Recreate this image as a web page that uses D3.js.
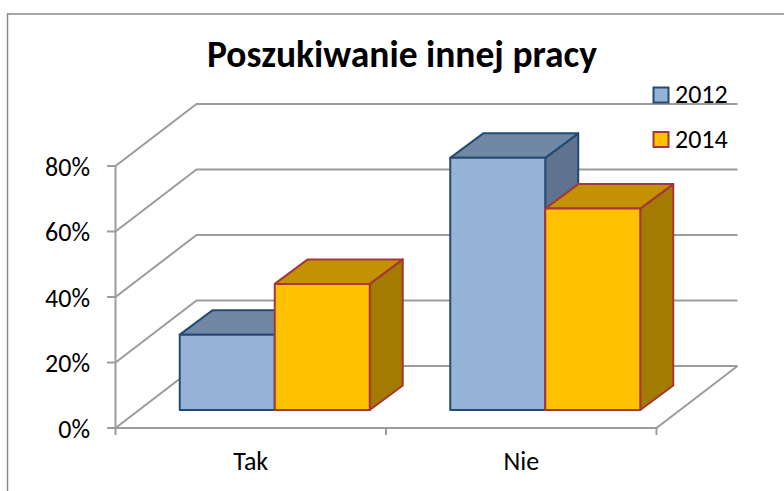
<!DOCTYPE html>
<html><head><meta charset="utf-8">
<script src="https://cdn.jsdelivr.net/npm/d3@7/dist/d3.min.js"></script>
<style>html,body{margin:0;padding:0;background:#fff}svg{display:block}text{font-family:Carlito,"Open Sans","Noto Sans",sans-serif;fill:#000}</style>
</head><body><svg id="c" width="784" height="491"></svg>
<script>
const categories = ["Tak", "Nie"];
const seriesNames = ["2012", "2014"];
const values2012 = [23, 77];
const values2014 = [38.5, 61.5];
const yTicks = [0, 20, 40, 60, 80];
const titleText = "Poszukiwanie innej pracy";

const svg = d3.select("#c");
const W = 784, H = 491;
const grid = "#9c9c9c";
const y = d3.scaleLinear().domain([0, 80]).range([428, 166]);
const x0 = d3.scaleBand().domain(categories).range([115.5, 656.5]);
const wall = {dx: 81, dy: -62};
const floorOff = {dx: 24, dy: -18};
const depth = {dx: 33, dy: -24.5};
const barW = 95;
const x1 = d3.scaleBand().domain(seriesNames).range([-barW, barW]);
const line = d3.line();

const styles = {
  "2012": {front: "#95b3d7", top: "#7188a5", side: "#5f7390", stroke: "#254a74"},
  "2014": {front: "#ffc000", top: "#c29200", side: "#a37b00", stroke: "#a5373a"}
};

svg.append("path").attr("d", `M7.5 ${H} V14 H${W}`).attr("fill", "none").attr("stroke", "#8a8a8a").attr("stroke-width", 1.5);

const gGrid = svg.append("g").attr("fill", "none").attr("stroke", grid).attr("stroke-width", 2);
yTicks.forEach(t => {
  const yy = y(t);
  gGrid.append("path").attr("d", line([[107, yy], [x0.range()[0], yy], [x0.range()[0] + wall.dx, yy + wall.dy], [x0.range()[1] + wall.dx, yy + wall.dy]]));
});
gGrid.append("path").attr("d", line([[x0.range()[0], y(0)], [x0.range()[0], y(80)]]));
gGrid.append("path").attr("d", line([[x0.range()[0], y(0)], [x0.range()[1], y(0)], [x0.range()[1] + wall.dx, y(0) + wall.dy]]));
[x0.range()[0], x0.range()[0] + x0.step(), x0.range()[1]].forEach(px => {
  gGrid.append("path").attr("d", line([[px, y(0)], [px, y(0) + 7]]));
});

const base = y(0) + floorOff.dy;
const rows = [];
categories.forEach((c, i) => {
  seriesNames.forEach((s, j) => {
    rows.push({c, s, v: (j === 0 ? values2012 : values2014)[i]});
  });
});
function drawBar(d) {
  const st = styles[d.s];
  const cx = x0(d.c) + x0.bandwidth() / 2 + floorOff.dx;
  const l = cx + x1(d.s), r = l + barW;
  const t = base - (y(0) - y(d.v));
  const g = svg.append("g").attr("stroke", st.stroke).attr("stroke-width", 2).attr("stroke-linejoin", "round");
  g.append("path").attr("fill", st.side).attr("d", line([[r, t], [r + depth.dx, t + depth.dy], [r + depth.dx, base + depth.dy], [r, base]]) + "Z");
  g.append("path").attr("fill", st.top).attr("d", line([[l, t], [l + depth.dx, t + depth.dy], [r + depth.dx, t + depth.dy], [r, t]]) + "Z");
  g.append("path").attr("fill", st.front).attr("d", line([[l, t], [r, t], [r, base], [l, base]]) + "Z");
}
rows.forEach(drawBar);

yTicks.forEach(t => {
  svg.append("text").attr("x", 90).attr("y", y(t) + 0.5).attr("dy", "0.35em").attr("text-anchor", "end").attr("font-size", 26).text(t + "%");
});
categories.forEach(c => {
  svg.append("text").attr("x", x0(c) + x0.bandwidth() / 2).attr("y", 470).attr("text-anchor", "middle").attr("font-size", 26).text(c);
});
svg.append("text").attr("x", 402).attr("y", 67).attr("text-anchor", "middle").attr("font-size", 37.5).attr("font-weight", 700).text(titleText);

seriesNames.forEach((s, i) => {
  const ly = 94 + i * 44.5;
  svg.append("rect").attr("x", 653.5).attr("y", ly - 6.5).attr("width", 15).attr("height", 15)
    .attr("fill", styles[s].front).attr("stroke", styles[s].stroke).attr("stroke-width", 2);
  svg.append("text").attr("x", 675).attr("y", ly).attr("dy", "0.35em").attr("font-size", 26).text(s);
});
</script></body></html>
